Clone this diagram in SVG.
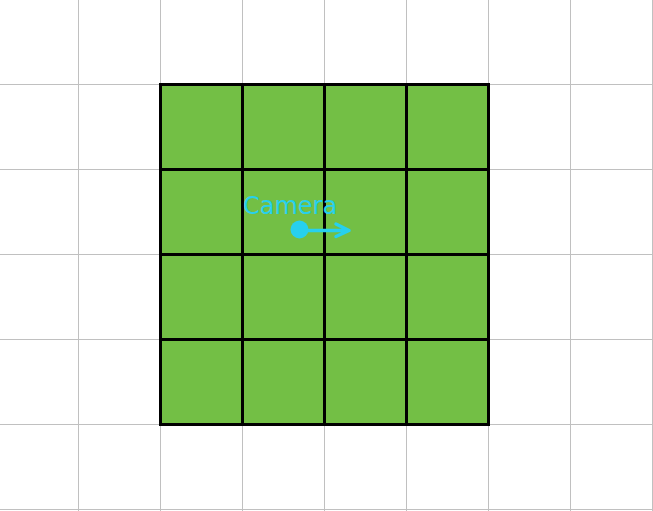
<svg xmlns="http://www.w3.org/2000/svg" width="653" height="511" viewBox="0 0 653 511">
  <style>
    .grid { stroke: #c0c0c0; stroke-width: 1; fill: none; }
    .tile { fill: #73bf45; stroke: #000; stroke-width: 3; }
    .tline { stroke: #000; stroke-width: 3; fill: none; }
    .cam { fill: #27d0ee; }
    .camtext { fill: #27d0ee; font-family: "DejaVu Sans", sans-serif; font-size: 24px; }
    .vec { stroke: #27d0ee; stroke-width: 3.5; fill: none; stroke-linecap: round; stroke-linejoin: round; }
  </style>
  <rect width="653" height="511" fill="#ffffff"/>
  <g id="grid" class="grid">
    <path d="M78.5 0V511M160.5 0V511M242.5 0V511M324.5 0V511M406.5 0V511M488.5 0V511M570.5 0V511M652.5 0V511"/>
    <path d="M0 84.5H653M0 169.5H653M0 254.5H653M0 339.5H653M0 424.5H653M0 509.5H653"/>
  </g>
  <g id="tiles">
    <rect class="tile" x="160.5" y="84.5" width="328" height="340"/>
    <path class="tline" d="M242.5 84.5V424.5M324.5 84.5V424.5M406.5 84.5V424.5M160.5 169.5H488.5M160.5 254.5H488.5M160.5 339.5H488.5"/>
  </g>
  <g id="camera">
    <circle class="cam" cx="299.5" cy="229.5" r="9"/>
    <text class="camtext" x="243" y="213.5">Camera</text>
  </g>
  <g id="connectors">
    <path class="vec" d="M300 230.5H349M336 224L349 230.5L336 236.5"/>
  </g>
</svg>
